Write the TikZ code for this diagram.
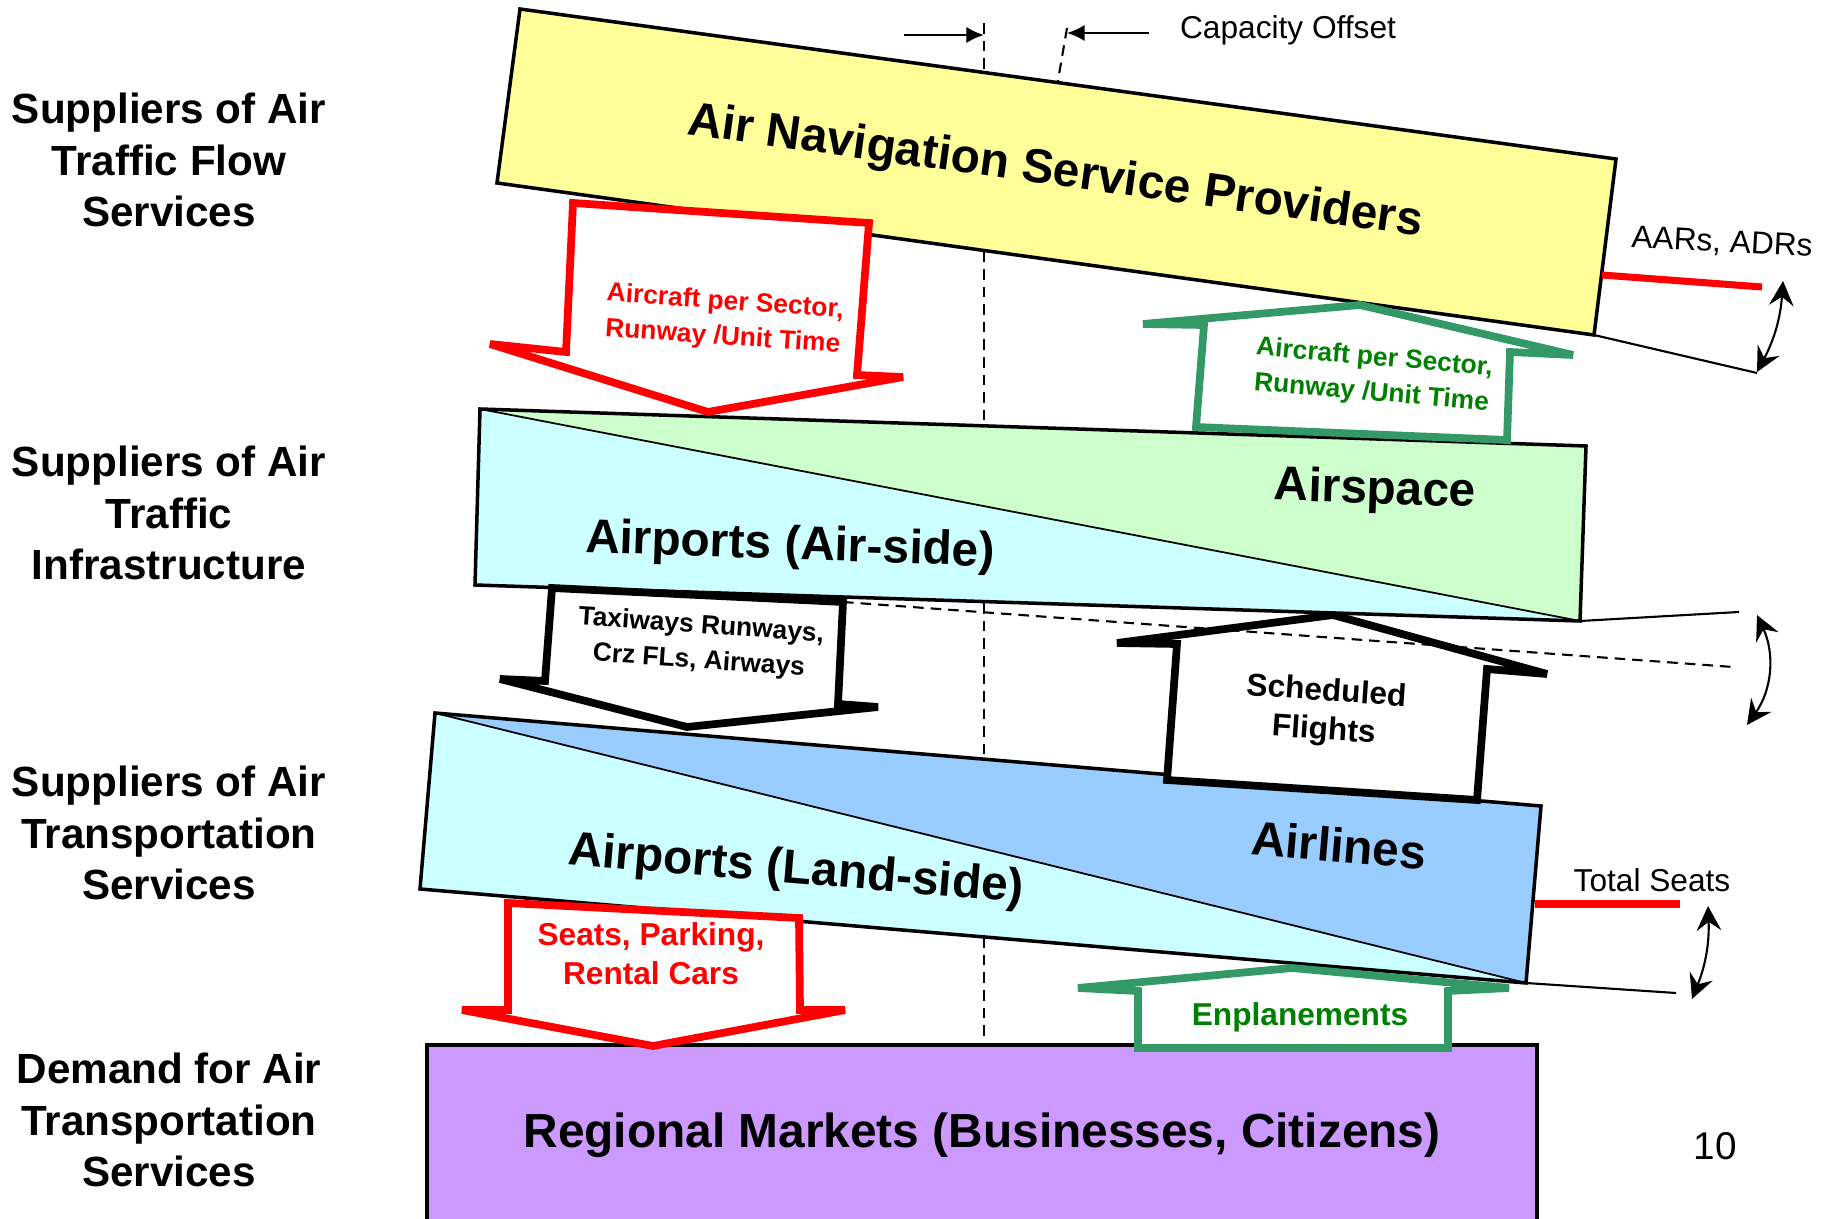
\documentclass[tikz,border=0pt]{standalone}
\usepackage{fontspec}
\setmainfont{Liberation Sans}
\usetikzlibrary{arrows.meta}

\definecolor{navyellow}{HTML}{FFFF99}
\definecolor{airgreen}{HTML}{CCFFCC}
\definecolor{aircyan}{HTML}{CCFFFF}
\definecolor{lineblue}{HTML}{99CCFF}
\definecolor{mktpurple}{HTML}{CC99FF}
\definecolor{flowgreen}{HTML}{339966}
\definecolor{textgreen}{HTML}{008000}

\begin{document}
\begin{tikzpicture}[
        x = 0.01cm,
        y = -0.01cm,
        >= {Latex[length=5pt, width=4.6pt]},
        layer/.style = {draw = black, line width = 1pt},
        split/.style = {line width = 0.5pt},
        guide/.style = {dash pattern = on 3pt off 2pt, line width = 0.6pt},
        blockarrow/.style = {fill = white, line width = 2.2pt, miter limit = 2},
        tier/.style = {font = \fontsize{12}{14.6}\selectfont\bfseries, align = center},
        boxlabel/.style = {font = \fontsize{13.6}{16}\selectfont\bfseries},
        smallflow/.style = {font = \fontsize{7.5}{10}\selectfont\bfseries, align = center},
        flow/.style = {font = \fontsize{9}{11}\selectfont\bfseries, align = center},
        note/.style = {font = \fontsize{9}{11}\selectfont},
        gauge/.style = {line width = 0.6pt,
            arrows = {Stealth[length=7pt, width=7pt, inset=2.5pt]-Stealth[length=7pt, width=7pt, inset=2.5pt]}},
        rate/.style = {red, line width = 2pt},
        tick/.style = {line width = 0.6pt}
    ]
    \useasboundingbox (0,0) rectangle (1824,1219);

    % corners of the four layers
    \coordinate (nav-nw) at (520,9);
    \coordinate (nav-ne) at (1616,159);
    \coordinate (nav-se) at (1594,335);
    \coordinate (nav-sw) at (497,183);
    \coordinate (inf-nw) at (480,409);
    \coordinate (inf-ne) at (1586,446);
    \coordinate (inf-se) at (1580,621);
    \coordinate (inf-sw) at (475,585);
    \coordinate (trn-nw) at (435,713);
    \coordinate (trn-ne) at (1541,806);
    \coordinate (trn-se) at (1526,983);
    \coordinate (trn-sw) at (420,889);
    \coordinate (mkt-nw) at (427,1045);
    \coordinate (mkt-se) at (1537,1235);

    % offset guides, behind everything
    \coordinate (cap-a) at (984,23);
    \coordinate (cap-b) at (984,1045);
    \coordinate (cap-c) at (1067,28);
    \coordinate (cap-d) at (1056,92);
    \draw[guide] (cap-a) -- (cap-b);
    \draw[guide] (cap-c) -- (cap-d);

    % the layers
    \filldraw[layer, fill=navyellow] (nav-nw) -- (nav-ne) -- (nav-se) -- (nav-sw) -- cycle;

    \fill[aircyan] (inf-nw) -- (inf-ne) -- (inf-se) -- (inf-sw) -- cycle;
    \fill[airgreen] (inf-nw) -- (inf-ne) -- (inf-se) -- cycle;
    \draw[split] (inf-nw) -- (inf-se);
    \draw[layer] (inf-nw) -- (inf-ne) -- (inf-se) -- (inf-sw) -- cycle;

    \fill[aircyan] (trn-nw) -- (trn-ne) -- (trn-se) -- (trn-sw) -- cycle;
    \fill[lineblue] (trn-nw) -- (trn-ne) -- (trn-se) -- cycle;
    \draw[split] (trn-nw) -- (trn-se);
    \draw[layer] (trn-nw) -- (trn-ne) -- (trn-se) -- (trn-sw) -- cycle;

    \filldraw[layer, fill=mktpurple] (mkt-nw) rectangle (mkt-se);

    \node[boxlabel, rotate=-7.9] (ansp) at (1055,173) {Air Navigation Service Providers};
    \node[boxlabel, rotate=-2] (airspace) at (1375,491) {Airspace};
    \node[boxlabel, rotate=-2] (airside) at (790,547) {Airports (Air-side)};
    \node[boxlabel, rotate=-4.8] (airlines) at (1339,845) {Airlines};
    \node[boxlabel, rotate=-4.8] (landside) at (796,871) {Airports (Land-side)};
    \node[boxlabel] (markets) at (982,1135) {Regional Markets (Businesses, Citizens)};

    % tiers on the left
    \node[tier] (flowsup) at (169,160) {Suppliers of Air\\Traffic Flow\\Services};
    \node[tier] (infrasup) at (169,513) {Suppliers of Air\\Traffic\\Infrastructure};
    \node[tier] (transup) at (169,833) {Suppliers of Air\\Transportation\\Services};
    \node[tier] (demand) at (169,1120) {Demand for Air\\Transportation\\Services};

    % flows between the layers
    \filldraw[blockarrow, draw=red] (573,203) -- (869,223) -- (857,375) -- (903,377)
        -- (708,412) -- (490,344) -- (566,352) -- cycle;
    \node[smallflow, red, rotate=-4] (ratedown) at (724,320) {Aircraft per Sector,\\Runway /Unit Time};

    \filldraw[blockarrow, draw=flowgreen] (1143,324) -- (1360,305) -- (1573,355) -- (1510,352)
        -- (1507,440) -- (1196,427) -- (1204,325) -- cycle;
    \node[smallflow, textgreen, rotate=-5] (rateup) at (1373,376) {Aircraft per Sector,\\Runway /Unit Time};

    \filldraw[blockarrow, draw=black] (552,588) -- (843,602) -- (838,704) -- (878,707)
        -- (687,727) -- (500,679) -- (545,681) -- cycle;
    \node[smallflow, rotate=-4] (taxi) at (700,644) {Taxiways Runways,\\Crz FLs, Airways};

    \filldraw[blockarrow, draw=black] (1117,643) -- (1333,615) -- (1547,674) -- (1487,669)
        -- (1477,800) -- (1167,780) -- (1177,644) -- cycle;
    \node[flow, rotate=-4] (sched) at (1325,712) {Scheduled\\Flights};

    \filldraw[blockarrow, draw=red] (508,903) -- (799,918) -- (800,1010) -- (845,1010)
        -- (653,1046) -- (462,1010) -- (508,1010) -- cycle;
    \node[flow, red] (parking) at (651,954) {Seats, Parking,\\Rental Cars};

    \filldraw[blockarrow, draw=flowgreen] (1078,988) -- (1292,968) -- (1509,988) -- (1448,991)
        -- (1448,1048) -- (1138,1048) -- (1138,991) -- cycle;
    \node[flow, textgreen] (enpl) at (1300,1017) {Enplanements};

    % capacity offset
    \coordinate (off-l) at (904,35);
    \coordinate (off-r) at (1149,33);
    \draw[->, line width=0.6pt] (off-l) -- (cap-a |- off-l);
    \draw[->, line width=0.6pt] (off-r) -- (1067,33);
    \node[note] (capoff) at (1288,30) {Capacity Offset};

    % capacity measures on the right
    \coordinate (nav-rate) at (1602,275);
    \coordinate (nav-rate-end) at (1762,287);
    \coordinate (nav-tick) at (1757,373);
    \coordinate (nav-g1) at (1783,281);
    \coordinate (nav-g2) at (1757,372);
    \draw[tick] (nav-se) -- (nav-tick);
    \draw[rate] (nav-rate) -- (nav-rate-end);
    \node[note, rotate=-3] (aar) at (1722,243) {AARs, ADRs};
    \draw[gauge] (nav-g1) to[bend left=12] (nav-g2);

    \coordinate (inf-tick) at (1739,612);
    \coordinate (inf-dash-a) at (843,602);
    \coordinate (inf-dash-b) at (1733,667);
    \coordinate (inf-g1) at (1757,615);
    \coordinate (inf-g2) at (1747,725);
    \draw[tick] (inf-se) -- (inf-tick);
    \draw[guide] (inf-dash-a) -- (inf-dash-b);
    \draw[gauge] (inf-g1) to[bend left=30] (inf-g2);

    \coordinate (trn-rate) at (1535,904);
    \coordinate (trn-rate-end) at (1680,904);
    \coordinate (trn-tick) at (1676,993);
    \coordinate (trn-g1) at (1708,906);
    \coordinate (trn-g2) at (1692,999);
    \draw[tick] (trn-se) -- (trn-tick);
    \draw[rate] (trn-rate) -- (trn-rate-end);
    \node[note] (seats) at (1652,880) {Total Seats};
    \draw[gauge] (trn-g1) to[bend left=12] (trn-g2);

    \node[font=\fontsize{11}{13}\selectfont] (page) at (1715,1146) {10};
\end{tikzpicture}
\end{document}
